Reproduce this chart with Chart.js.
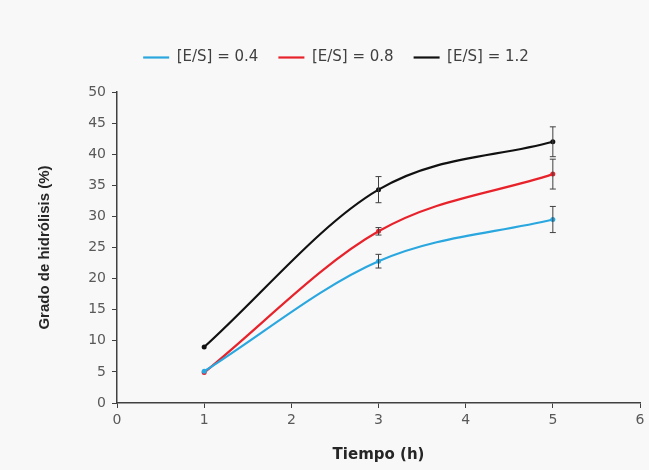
<!DOCTYPE html>
<html>
<head>
<meta charset="utf-8">
<script src="https://cdn.jsdelivr.net/npm/chart.js@4"></script>
<style>
  html, body { margin: 0; padding: 0; background: #f8f8f8; }
  #wrap { width: 649px; height: 470px; }
</style>
</head>
<body>
<div id="wrap"><canvas id="hydroChart" width="649" height="470"></canvas></div>
<script>
const tiempo = [1, 3, 5];
const series04 = [5.1, 22.8, 29.5];
const series08 = [4.9, 27.6, 36.8];
const series12 = [9.0, 34.3, 42.0];
const err04 = [0, 1.1, 2.1];
const err08 = [0, 0.6, 2.4];
const err12 = [0, 2.1, 2.4];
const seriesNames = ['[E/S] = 0.4', '[E/S] = 0.8', '[E/S] = 1.2'];
const seriesColors = ['#2aa7df', '#e8222b', '#111111'];

const FONT = 'DejaVu Sans, Verdana, sans-serif';
const toPoints = (vals) => tiempo.map((t, i) => ({ x: t, y: vals[i] }));

// draws the vertical error bars with small caps
const errorBars = {
    id: 'errorBars',
    afterDatasetsDraw(chart) {
        const { ctx, scales: { x, y } } = chart;
        ctx.save();
        ctx.strokeStyle = '#404040';
        ctx.lineWidth = 1;
        chart.data.datasets.forEach((ds) => {
            ds.data.forEach((p, i) => {
                const e = ds.errors[i];
                if (!e) return;
                const px = x.getPixelForValue(p.x);
                const top = y.getPixelForValue(p.y + e);
                const bot = y.getPixelForValue(p.y - e);
                ctx.beginPath();
                ctx.moveTo(px, top); ctx.lineTo(px, bot);
                ctx.moveTo(px - 3, top); ctx.lineTo(px + 3, top);
                ctx.moveTo(px - 3, bot); ctx.lineTo(px + 3, bot);
                ctx.stroke();
            });
        });
        ctx.restore();
    }
};

// extra gap under the legend
const legendGap = {
    id: 'legendGap',
    beforeInit(chart) {
        const fit = chart.legend.fit;
        chart.legend.fit = function () {
            fit.bind(chart.legend)();
            this.height += 17;
        };
    }
};

const ctx = document.getElementById('hydroChart').getContext('2d');
new Chart(ctx, {
    type: 'line',
    data: {
        datasets: [
            { label: seriesNames[0], data: toPoints(series04), errors: err04,
              borderColor: seriesColors[0], backgroundColor: seriesColors[0] },
            { label: seriesNames[1], data: toPoints(series08), errors: err08,
              borderColor: seriesColors[1], backgroundColor: seriesColors[1] },
            { label: seriesNames[2], data: toPoints(series12), errors: err12,
              borderColor: seriesColors[2], backgroundColor: seriesColors[2] }
        ]
    },
    options: {
        responsive: false,
        animation: false,
        layout: { padding: { left: 32, right: 9, top: 30, bottom: 2 } },
        elements: {
            line: { borderWidth: 2.2, tension: 0.4, cubicInterpolationMode: 'monotone', fill: false },
            point: { radius: 2.5, hoverRadius: 2.5, borderWidth: 0 }
        },
        plugins: {
            tooltip: { enabled: false },
            legend: {
                position: 'top',
                labels: {
                    usePointStyle: true,
                    pointStyleWidth: 26,
                    padding: 20,
                    color: '#404040',
                    font: { family: FONT, size: 15 },
                    generateLabels: (chart) => chart.data.datasets.map((ds, i) => ({
                        text: ds.label,
                        pointStyle: 'line',
                        strokeStyle: seriesColors[i],
                        fillStyle: seriesColors[i],
                        lineWidth: 2.2,
                        fontColor: '#404040',
                        datasetIndex: i
                    }))
                }
            }
        },
        scales: {
            x: {
                type: 'linear',
                min: 0, max: 6,
                ticks: { stepSize: 1, color: '#595959', padding: 4,
                         font: { family: FONT, size: 14 } },
                grid: { display: true, drawOnChartArea: false, drawTicks: true, tickLength: 5, color: '#404040' },
                border: { display: true, color: '#404040', width: 1.5 },
                title: { display: true, text: 'Tiempo (h)', color: '#262626',
                         font: { family: FONT, size: 15, weight: 'bold' } },
                afterFit: (s) => { s.height = 470 - 403 - 2; }
            },
            y: {
                min: 0, max: 50,
                ticks: { stepSize: 5, color: '#595959', padding: 6,
                         font: { family: FONT, size: 14 } },
                grid: { display: true, drawOnChartArea: false, drawTicks: true, tickLength: 5, color: '#404040' },
                border: { display: true, color: '#404040', width: 1.5 },
                title: { display: true, text: 'Grado de hidrólisis (%)', color: '#262626',
                         font: { family: 'Liberation Sans, Arial, sans-serif', size: 15, weight: 'bold' } },
                afterFit: (s) => { s.width = 117 - 32; }
            }
        }
    },
    plugins: [errorBars, legendGap]
});
</script>
</body>
</html>
